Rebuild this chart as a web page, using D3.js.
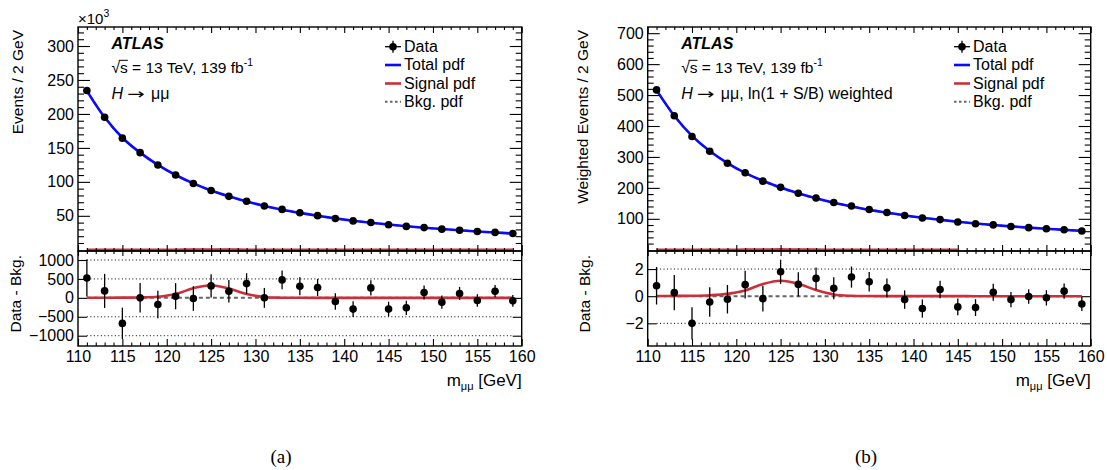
<!DOCTYPE html>
<html>
<head>
<meta charset="utf-8">
<script src="https://cdn.jsdelivr.net/npm/d3@7"></script>
<style>
  body { margin: 0; background: #fff; }
  svg { display: block; font-family: "Liberation Sans", Arial, Helvetica, sans-serif; }
</style>
</head>
<body>
<svg id="chart" width="1107" height="470"></svg>
<script>
// ---- data: bin centres of the m_mumu spectrum (2 GeV bins) ----
const massBins = [111,113,115,117,119,121,123,125,127,129,131,133,135,137,139,141,143,145,147,149,151,153,155,157,159];
const xMajorTicks = [110,115,120,125,130,135,140,145,150,155,160];
const xMinorTicks = d3.range(110, 161).filter(v => v % 5 !== 0);

// (a) unweighted: background pdf in units of 10^3 events, residuals/signal in events
const bkgA   = [234,195,165,143,125,110,97.5,87,78.5,71,64.5,59,54.3,50,46.2,42.8,39.8,37.1,34.7,32.5,30.5,28.7,27,25.4,24];
const residA = [526,184,-675,0,-175,44,-18,316,175,377,0,474,308,274,-95,-297,263,-297,-263,142,-113,116,-68,176,-79];
const errA   = [490,450,415,390,362,345,325,305,295,275,262,246,236,226,216,208,201,194,187,183,177,173,166,162,157];
const sigA   = [2,3,5,10,28,100,255,335,245,100,22,4,1,0.5,0.5,0.5,0.5,0.5,0.5,0.5,0.5,0.5,0.5,0.5,0.5];
const topTicksA  = [50,100,150,200,250,300];
const topMinorA  = d3.range(10, 330, 10).filter(v => v % 50 !== 0);
const botTicksA  = [-1000,-500,0,500,1000];
const gridA      = [-1000,-500,500,1000];

// (b) ln(1+S/B) weighted
const bkgB   = [516,433,368,319,280,248,222,200,182,166,152,140,129,120,111,103.5,97,90.5,85,80,75.5,71.5,67.8,64.4,61];
const residB = [0.77,0.26,-2.0,-0.43,-0.23,0.85,-0.18,1.8,0.87,1.31,0.58,1.41,1.06,0.61,-0.25,-0.91,0.49,-0.79,-0.84,0.29,-0.25,-0.02,-0.12,0.37,-0.57];
const errB   = [1.38,1.30,1.19,1.09,1.05,1.02,0.95,0.89,0.89,0.81,0.81,0.78,0.72,0.70,0.68,0.67,0.65,0.62,0.62,0.62,0.56,0.54,0.56,0.56,0.53];
const sigB   = [0.01,0.02,0.03,0.07,0.17,0.42,0.9,1.14,0.92,0.45,0.13,0.03,0.01,0.005,0.005,0.005,0.005,0.005,0,0,0,0,0,0,0];
const topTicksB  = [100,200,300,400,500,600,700];
const topMinorB  = d3.range(20, 720, 20).filter(v => v % 100 !== 0);
const botTicksB  = [-2,0,2];
const gridB      = [-2,2];

const legendLabels = ["Data", "Total pdf", "Signal pdf", "Bkg. pdf"];

// ---- styling ----
const BLUE = "#0a0aff";
const RED = "#c9303c";
const GREY = "#666";
const yTop = 27, ySplit = 251, yBot = 346;

const svg = d3.select("#chart");

function axisGroup(parent, axis, transform) {
  const g = parent.append("g").attr("transform", transform).call(axis);
  g.select(".domain").remove();
  g.attr("font-family", null).attr("font-size", null);
  g.selectAll("line").attr("stroke", "#000").attr("stroke-width", 1.1);
  g.selectAll("text").attr("fill", "#000").style("font-size", "16px");
  return g;
}

function drawPanel(cfg) {
  const { id, x0, x1, bkg, resid, err, sig, unit, yTopDom, yBotDom,
          topTicks, topMinor, botTicks, grid, sigTopDefined } = cfg;

  const rows = massBins.map((m, i) => ({
    m,
    bkg: bkg[i],
    sig: sig[i],
    total: bkg[i] + sig[i] / unit,
    data: bkg[i] + resid[i] / unit,
    dataErr: err[i] / unit,
    res: resid[i],
    err: err[i]
  }));

  const x = d3.scaleLinear().domain([110, 160]).range([x0, x1]);
  const yT = d3.scaleLinear().domain(yTopDom).range([ySplit, yTop]);
  const yB = d3.scaleLinear().domain(yBotDom).range([yBot, ySplit]);

  const defs = svg.append("defs");
  defs.append("clipPath").attr("id", "clipT" + id)
    .append("rect").attr("x", x0).attr("y", yTop).attr("width", x1 - x0).attr("height", ySplit - yTop);
  defs.append("clipPath").attr("id", "clipB" + id)
    .append("rect").attr("x", x0).attr("y", ySplit).attr("width", x1 - x0).attr("height", yBot - ySplit);

  // ---------- upper pad ----------
  const top = svg.append("g").attr("clip-path", `url(#clipT${id})`);
  const curve = d3.curveCatmullRom;

  top.append("path").datum(rows)
    .attr("d", d3.line().x(d => x(d.m)).y(d => yT(d.bkg)).curve(curve))
    .attr("fill", "none").attr("stroke", GREY).attr("stroke-width", 2).attr("stroke-dasharray", "4,3");
  top.append("path").datum(rows)
    .attr("d", d3.line().defined(d => !sigTopDefined || d.sig > 0)
      .x(d => x(d.m)).y(d => yT(d.sig / unit)).curve(curve))
    .attr("fill", "none").attr("stroke", RED).attr("stroke-width", 2.6);
  top.append("path").datum(rows)
    .attr("d", d3.line().x(d => x(d.m)).y(d => yT(d.total)).curve(curve))
    .attr("fill", "none").attr("stroke", BLUE).attr("stroke-width", 2.6);
  top.selectAll("line.err").data(rows).join("line")
    .attr("x1", d => x(d.m)).attr("x2", d => x(d.m))
    .attr("y1", d => yT(d.data - d.dataErr)).attr("y2", d => yT(d.data + d.dataErr))
    .attr("stroke", "#000").attr("stroke-width", 1.3);
  top.selectAll("circle").data(rows).join("circle")
    .attr("cx", d => x(d.m)).attr("cy", d => yT(d.data)).attr("r", 3.8).attr("fill", "#000");

  // ---------- lower pad ----------
  const bot = svg.append("g").attr("clip-path", `url(#clipB${id})`);
  bot.selectAll("line.grid").data(grid).join("line")
    .attr("x1", x(massBins[0])).attr("x2", x(massBins[massBins.length - 1]))
    .attr("y1", d => yB(d)).attr("y2", d => yB(d))
    .attr("stroke", "#000").attr("stroke-width", 1).attr("stroke-dasharray", "1,2.5");
  bot.append("path").datum(rows)
    .attr("d", d3.line().x(d => x(d.m)).y(() => yB(0)))
    .attr("fill", "none").attr("stroke", GREY).attr("stroke-width", 2).attr("stroke-dasharray", "4,3");
  bot.append("path").datum(rows)
    .attr("d", d3.line().x(d => x(d.m)).y(d => yB(d.sig)).curve(curve))
    .attr("fill", "none").attr("stroke", RED).attr("stroke-width", 2.6);
  bot.selectAll("line.err").data(rows).join("line")
    .attr("x1", d => x(d.m)).attr("x2", d => x(d.m))
    .attr("y1", d => yB(d.res - d.err)).attr("y2", d => yB(d.res + d.err))
    .attr("stroke", "#000").attr("stroke-width", 1.3);
  bot.selectAll("circle").data(rows).join("circle")
    .attr("cx", d => x(d.m)).attr("cy", d => yB(d.res)).attr("r", 3.8).attr("fill", "#000");

  // ---------- frames ----------
  svg.append("rect").attr("x", x0).attr("y", yTop).attr("width", x1 - x0).attr("height", ySplit - yTop)
    .attr("fill", "none").attr("stroke", "#000").attr("stroke-width", 1.4);
  svg.append("rect").attr("x", x0).attr("y", ySplit).attr("width", x1 - x0).attr("height", yBot - ySplit)
    .attr("fill", "none").attr("stroke", "#000").attr("stroke-width", 1.4);

  const fmt = d3.format("d");
  // upper pad axes
  axisGroup(svg, d3.axisLeft(yT).tickValues(topTicks).tickSizeInner(-12).tickSizeOuter(0).tickPadding(4).tickFormat(fmt), `translate(${x0},0)`);
  axisGroup(svg, d3.axisLeft(yT).tickValues(topMinor).tickSizeInner(-6).tickSizeOuter(0).tickFormat(""), `translate(${x0},0)`);
  axisGroup(svg, d3.axisRight(yT).tickValues(topTicks).tickSizeInner(-12).tickSizeOuter(0).tickFormat(""), `translate(${x1},0)`);
  axisGroup(svg, d3.axisRight(yT).tickValues(topMinor).tickSizeInner(-6).tickSizeOuter(0).tickFormat(""), `translate(${x1},0)`);
  axisGroup(svg, d3.axisTop(x).tickValues(xMajorTicks).tickSizeInner(-6).tickSizeOuter(0).tickFormat(""), `translate(0,${yTop})`);
  axisGroup(svg, d3.axisTop(x).tickValues(xMinorTicks).tickSizeInner(-3).tickSizeOuter(0).tickFormat(""), `translate(0,${yTop})`);
  axisGroup(svg, d3.axisBottom(x).tickValues(xMajorTicks).tickSizeInner(-6).tickSizeOuter(0).tickFormat(""), `translate(0,${ySplit})`);
  axisGroup(svg, d3.axisBottom(x).tickValues(xMinorTicks).tickSizeInner(-3).tickSizeOuter(0).tickFormat(""), `translate(0,${ySplit})`);
  // lower pad axes
  axisGroup(svg, d3.axisTop(x).tickValues(xMajorTicks).tickSizeInner(-5).tickSizeOuter(0).tickFormat(""), `translate(0,${ySplit})`);
  axisGroup(svg, d3.axisTop(x).tickValues(xMinorTicks).tickSizeInner(-3).tickSizeOuter(0).tickFormat(""), `translate(0,${ySplit})`);
  axisGroup(svg, d3.axisBottom(x).tickValues(xMajorTicks).tickSizeInner(-7).tickSizeOuter(0).tickPadding(5).tickFormat(fmt), `translate(0,${yBot})`);
  axisGroup(svg, d3.axisBottom(x).tickValues(xMinorTicks).tickSizeInner(-3.5).tickSizeOuter(0).tickFormat(""), `translate(0,${yBot})`);
  axisGroup(svg, d3.axisLeft(yB).tickValues(botTicks).tickSizeInner(-9).tickSizeOuter(0).tickPadding(4).tickFormat(fmt), `translate(${x0},0)`);
  axisGroup(svg, d3.axisRight(yB).tickValues(botTicks).tickSizeInner(-9).tickSizeOuter(0).tickFormat(""), `translate(${x1},0)`);

  // x-axis title
  const xt = svg.append("text").attr("x", x1).attr("y", 386).attr("text-anchor", "end").style("font-size", "17px");
  xt.append("tspan").text("m");
  xt.append("tspan").attr("dy", 4).style("font-size", "11px").text("μμ");
  xt.append("tspan").attr("dy", -4).text(" [GeV]");

  return { x, yT, yB };
}

function rotatedTitle(text, bx, endY, size) {
  svg.append("text")
    .attr("transform", `translate(${bx},${endY}) rotate(-90)`)
    .attr("text-anchor", "end")
    .style("font-size", size + "px")
    .text(text);
}

function atlasLabel(x0, processLine) {
  const lx = x0 + 33.5;
  svg.append("text").attr("x", lx).attr("y", 48.5)
    .style("font-size", "16px").style("font-weight", "bold").style("font-style", "italic").text("ATLAS");

  const t = svg.append("text").attr("x", lx).attr("y", 72.5).style("font-size", "15.5px");
  t.append("tspan").text("√");
  t.append("tspan").text("s = 13 TeV, 139 fb");
  t.append("tspan").attr("dy", -7).style("font-size", "10.5px").text("-1");
  // overline of the square root
  const node = t.node();
  const sx0 = node.getStartPositionOfChar(0).x + node.getExtentOfChar(0).width * 0.85;
  const sx1 = node.getEndPositionOfChar(1).x;
  svg.append("line").attr("x1", sx0).attr("x2", sx1).attr("y1", 72.5 - 12.2).attr("y2", 72.5 - 12.2)
    .attr("stroke", "#000").attr("stroke-width", 1);

  // process line: italic H, a long arrow, then the final state
  svg.append("text").attr("x", lx).attr("y", 99).style("font-size", "16px")
    .style("font-style", "italic").text("H");
  svg.append("text").attr("transform", `translate(${lx + 15.5},99) scale(1.4,1)`)
    .style("font-family", '"DejaVu Sans", sans-serif').style("font-size", "15px").text("→");
  svg.append("text").attr("x", lx + 39.5).attr("y", 99).style("font-size", "16px")
    .text("μμ" + processLine);
}

function legend(lx) {
  const rowsY = [46.7, 65, 83.5, 101.7];
  const g = svg.append("g");
  // Data
  g.append("line").attr("x1", lx).attr("x2", lx + 16).attr("y1", rowsY[0]).attr("y2", rowsY[0])
    .attr("stroke", "#000").attr("stroke-width", 1.3);
  g.append("line").attr("x1", lx + 8).attr("x2", lx + 8).attr("y1", rowsY[0] - 6).attr("y2", rowsY[0] + 6)
    .attr("stroke", "#000").attr("stroke-width", 1.3);
  g.append("circle").attr("cx", lx + 8).attr("cy", rowsY[0]).attr("r", 3.8).attr("fill", "#000");
  // Total, Signal, Background
  g.append("line").attr("x1", lx).attr("x2", lx + 16).attr("y1", rowsY[1]).attr("y2", rowsY[1])
    .attr("stroke", BLUE).attr("stroke-width", 2.6);
  g.append("line").attr("x1", lx).attr("x2", lx + 16).attr("y1", rowsY[2]).attr("y2", rowsY[2])
    .attr("stroke", RED).attr("stroke-width", 2.6);
  g.append("line").attr("x1", lx).attr("x2", lx + 16).attr("y1", rowsY[3]).attr("y2", rowsY[3])
    .attr("stroke", GREY).attr("stroke-width", 2).attr("stroke-dasharray", "2.5,2.5");
  legendLabels.forEach((lab, i) => {
    g.append("text").attr("x", lx + 19).attr("y", rowsY[i] + 5.3).style("font-size", "16px").text(lab);
  });
}

// ---- panel (a) ----
drawPanel({
  id: "A", x0: 78, x1: 521.7, bkg: bkgA, resid: residA, err: errA, sig: sigA, unit: 1000,
  yTopDom: [-1.8, 328], yBotDom: [-1272, 1238],
  topTicks: topTicksA, topMinor: topMinorA, botTicks: botTicksA, grid: gridA, sigTopDefined: false
});
rotatedTitle("Events / 2 GeV", 23, 30, 15.5);
rotatedTitle("Data - Bkg.", 21, 255, 15.5);
const pow = svg.append("text").attr("x", 78).attr("y", 23.5).style("font-size", "15px");
pow.append("tspan").text("×10");
pow.append("tspan").attr("dy", -7).style("font-size", "10.5px").text("3");
atlasLabel(78, "");
legend(385);

// ---- panel (b) ----
drawPanel({
  id: "B", x0: 647.7, x1: 1090.7, bkg: bkgB, resid: residB, err: errB, sig: sigB, unit: 1,
  yTopDom: [-4, 720], yBotDom: [-3.67, 3.33],
  topTicks: topTicksB, topMinor: topMinorB, botTicks: botTicksB, grid: gridB, sigTopDefined: true
});
rotatedTitle("Weighted Events / 2 GeV", 588, 30, 15.5);
rotatedTitle("Data - Bkg.", 590, 255, 15.5);
atlasLabel(647.7, ", ln(1 + S/B) weighted");
legend(954);

// ---- sub-figure captions ----
svg.append("text").attr("x", 281).attr("y", 463).attr("text-anchor", "middle")
  .style("font-family", '"Liberation Serif", "Times New Roman", serif').style("font-size", "19px").text("(a)");
svg.append("text").attr("x", 866).attr("y", 463).attr("text-anchor", "middle")
  .style("font-family", '"Liberation Serif", "Times New Roman", serif').style("font-size", "19px").text("(b)");
</script>
</body>
</html>
